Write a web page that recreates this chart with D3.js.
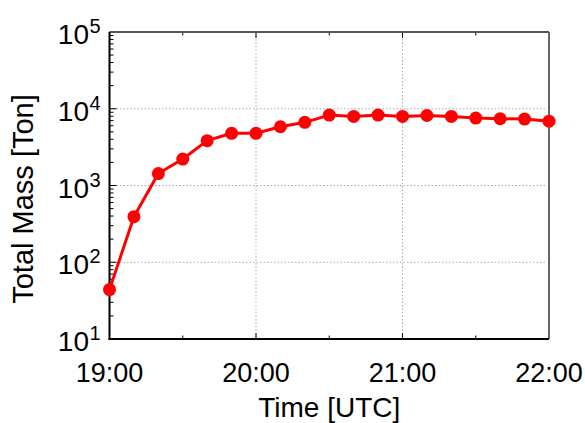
<!DOCTYPE html>
<html lang="en">
<head>
<meta charset="utf-8"/>
<title>Total Mass</title>
<script src="https://d3js.org/d3.v7.min.js"></script>
<style>
  body { margin: 0; background: #fff; }
  text { font-family: "Liberation Sans", Arial, Helvetica, sans-serif; fill: #000; }
</style>
</head>
<body>
<script>
// 10-minute samples, 19:00 - 22:00 UTC
const times = ["19:00","19:10","19:20","19:30","19:40","19:50","20:00","20:10","20:20","20:30",
               "20:40","20:50","21:00","21:10","21:20","21:30","21:40","21:50","22:00"]
const mass = [44, 392, 1430, 2210, 3840, 4790, 4790, 5830, 6650, 8260,
              7940, 8260, 7940, 8170, 7940, 7550, 7410, 7330, 6890]
const xTicks = ["19:00","20:00","21:00","22:00"]
const xMinor = ["19:30","20:30","21:30"]
const yExp = [1, 2, 3, 4, 5]

const W = 585, H = 423
const m = {left: 109.5, right: 549, top: 32, bottom: 339}

const parse = s => new Date(`2000-01-01T${s}:00Z`)
const x = d3.scaleUtc().domain([parse("19:00"), parse("22:00")]).range([m.left, m.right])
const y = d3.scaleLog().domain([10, 1e5]).range([m.bottom, m.top])

const svg = d3.select("body").append("svg").attr("width", W).attr("height", H)

// grid
const grid = svg.append("g").attr("stroke", "#aaa").attr("stroke-width", 1)
  .attr("stroke-dasharray", "1.5,2")
grid.selectAll(".gx").data(xTicks.slice(1, -1)).join("line")
  .attr("x1", d => x(parse(d))).attr("x2", d => x(parse(d)))
  .attr("y1", m.top).attr("y2", m.bottom)
grid.selectAll(".gy").data(yExp.slice(1, -1)).join("line")
  .attr("x1", m.left).attr("x2", m.right - 2)
  .attr("y1", d => y(10 ** d)).attr("y2", d => y(10 ** d))

// minor log ticks
const minorY = []
for (let e = 1; e < 5; e++) for (let k = 2; k <= 9; k++) minorY.push(k * 10 ** e)

const ticks = svg.append("g").attr("stroke", "#000").attr("stroke-width", 1)
ticks.selectAll(".my").data(minorY).join("line")
  .attr("x1", m.left).attr("x2", m.left + 4)
  .attr("y1", d => y(d)).attr("y2", d => y(d))
ticks.selectAll(".My").data(yExp).join("line")
  .attr("x1", m.left).attr("x2", m.left + 7)
  .attr("y1", d => y(10 ** d)).attr("y2", d => y(10 ** d))
for (const yy of [m.bottom, m.top]) {
  const dir = yy === m.bottom ? -1 : 1
  ticks.append("g").selectAll("line").data(xTicks).join("line")
    .attr("x1", d => x(parse(d))).attr("x2", d => x(parse(d)))
    .attr("y1", yy).attr("y2", yy + dir * 6)
  ticks.append("g").selectAll("line").data(xMinor).join("line")
    .attr("x1", d => x(parse(d))).attr("x2", d => x(parse(d)))
    .attr("y1", yy).attr("y2", yy + dir * 3.5)
}

// frame: top and right grey, left and bottom black
svg.append("line").attr("x1", m.left).attr("x2", m.right).attr("y1", m.top).attr("y2", m.top)
  .attr("stroke", "#555").attr("stroke-width", 2)
svg.append("line").attr("x1", m.right).attr("x2", m.right).attr("y1", m.top).attr("y2", m.bottom)
  .attr("stroke", "#666").attr("stroke-width", 2)
svg.append("line").attr("x1", m.left).attr("x2", m.left).attr("y1", m.top).attr("y2", m.bottom + 1)
  .attr("stroke", "#000").attr("stroke-width", 2)
svg.append("line").attr("x1", m.left - 1).attr("x2", m.right).attr("y1", m.bottom).attr("y2", m.bottom)
  .attr("stroke", "#000").attr("stroke-width", 2)

// series
const pts = times.map((t, i) => [parse(t), mass[i]])
svg.append("path").datum(pts)
  .attr("fill", "none").attr("stroke", "#f00").attr("stroke-width", 3)
  .attr("stroke-linejoin", "round")
  .attr("d", d3.line().x(d => x(d[0])).y(d => y(d[1])))
svg.append("g").selectAll("circle").data(pts).join("circle")
  .attr("cx", d => x(d[0])).attr("cy", d => y(d[1])).attr("r", 6.5).attr("fill", "#f00")

// tick labels
svg.append("g").selectAll("text").data(xTicks).join("text")
  .attr("x", d => x(parse(d))).attr("y", 382)
  .attr("text-anchor", "middle").style("font-size", "27px").text(d => d)

svg.append("g").selectAll("text").data(yExp).join("text")
  .attr("x", 89).attr("y", d => y(10 ** d) + 12)
  .attr("text-anchor", "end").style("font-size", "28px").text("10")
svg.append("g").selectAll("text").data(yExp).join("text")
  .attr("x", 89.5).attr("y", d => y(10 ** d) + 1)
  .style("font-size", "20px").text(d => d)

// axis titles
svg.append("text").attr("x", (m.left + m.right) / 2).attr("y", 417)
  .attr("text-anchor", "middle").style("font-size", "28px").text("Time [UTC]")
svg.append("text").attr("transform", "translate(33,199) rotate(-90)")
  .attr("text-anchor", "middle").style("font-size", "29px").text("Total Mass [Ton]")
</script>
</body>
</html>
